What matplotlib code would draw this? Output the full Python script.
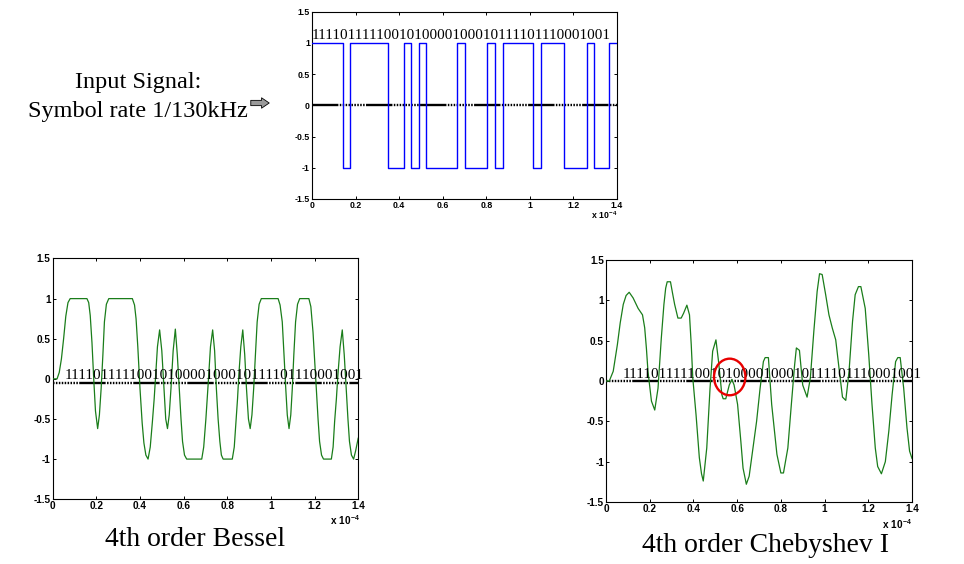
"""Input bit stream and its 4th order Bessel / Chebyshev I filtered versions."""

import matplotlib.pyplot as plt
import numpy as np
from matplotlib.patches import Ellipse, FancyArrowPatch

plt.rcParams["lines.scale_dashes"] = False
plt.rcParams["mathtext.fontset"] = "custom"
plt.rcParams["mathtext.rm"] = "Liberation Sans"
plt.rcParams["mathtext.bf"] = "Liberation Sans:bold"

W, H = 964, 564

# bit sequence, bit period in units of 1e-4 s
BITS = "1111011111001010000100010111101110001001"
BIT_PERIOD = 0.035

X_TICKS = [0, 0.2, 0.4, 0.6, 0.8, 1.0, 1.2, 1.4]
X_TICK_LABELS = ["0", "0.2", "0.4", "0.6", "0.8", "1", "1.2", "1.4"]
Y_TICKS = [-1.5, -1, -0.5, 0, 0.5, 1, 1.5]
Y_TICK_LABELS = ["-1.5", "-1", "-0.5", "0", "0.5", "1", "1.5"]

# level of the black reference line in each panel
INPUT_BASE = 0.0
BESSEL_BASE = -0.05
CHEBY_BASE = 0.0

# digitised filter outputs (time in 1e-4 s)
bessel_t = [0, 0.02, 0.03, 0.04, 0.05, 0.06, 0.07, 0.08, 0.157, 0.165, 0.172, 0.18,
            0.188, 0.196, 0.206, 0.214, 0.222, 0.23, 0.237, 0.246, 0.257, 0.365, 0.375,
            0.382, 0.39, 0.4, 0.41, 0.418, 0.427, 0.437, 0.447, 0.457, 0.465, 0.472,
            0.48, 0.49, 0.5, 0.51, 0.518, 0.526, 0.534, 0.542, 0.552, 0.562, 0.571,
            0.58, 0.588, 0.595, 0.604, 0.614, 0.683, 0.692, 0.702, 0.713, 0.723, 0.733,
            0.742, 0.75, 0.758, 0.766, 0.773, 0.781, 0.823, 0.832, 0.84, 0.847, 0.853,
            0.862, 0.871, 0.88, 0.888, 0.897, 0.905, 0.913, 0.921, 0.929, 0.937, 0.946,
            0.956, 1.033, 1.042, 1.052, 1.06, 1.068, 1.075, 1.083, 1.091, 1.098, 1.105,
            1.113, 1.122, 1.132, 1.174, 1.183, 1.193, 1.2, 1.208, 1.216, 1.223, 1.232,
            1.241, 1.277, 1.285, 1.292, 1.3, 1.307, 1.317, 1.327, 1.336, 1.345, 1.353,
            1.36, 1.369, 1.379, 1.388, 1.4]
bessel_v = [0, 0, 0.08, 0.25, 0.5, 0.78, 0.95, 1.0, 1.0, 0.95, 0.79, 0.45,
            0.0, -0.4, -0.62, -0.45, -0.12, 0.3, 0.71, 0.93, 1.0, 1.0, 0.92,
            0.75, 0.4, -0.12, -0.55, -0.8, -0.95, -1.0, -0.85, -0.53, -0.25, 0.05,
            0.4, 0.61, 0.35, -0.12, -0.5, -0.62, -0.45, -0.12, 0.35, 0.62, 0.3,
            -0.12, -0.5, -0.78, -0.95, -1.0, -1.0, -0.85, -0.5, -0.04, 0.4, 0.61,
            0.35, -0.12, -0.5, -0.78, -0.95, -1.0, -1.0, -0.85, -0.53, -0.25, 0.05,
            0.4, 0.61, 0.3, -0.12, -0.5, -0.62, -0.45, -0.12, 0.3, 0.71, 0.93,
            1.0, 1.0, 0.92, 0.71, 0.3, -0.12, -0.45, -0.62, -0.45, -0.12, 0.3,
            0.71, 0.93, 1.0, 1.0, 0.9, 0.58, 0.25, -0.12, -0.5, -0.78, -0.95,
            -1.0, -1.0, -0.85, -0.53, -0.25, 0.05, 0.4, 0.61, 0.3, -0.12, -0.5,
            -0.78, -0.95, -1.0, -0.9, -0.74]

cheby_t = [0, 0.015, 0.033, 0.052, 0.065, 0.079, 0.092, 0.106, 0.124, 0.147, 0.167,
           0.177, 0.185, 0.192, 0.208, 0.223, 0.238, 0.253, 0.265, 0.273, 0.28, 0.295,
           0.305, 0.314, 0.329, 0.344, 0.355, 0.37, 0.382, 0.39, 0.397, 0.412, 0.427,
           0.437, 0.445, 0.461, 0.476, 0.488, 0.503, 0.515, 0.53, 0.536, 0.548, 0.564,
           0.576, 0.586, 0.602, 0.617, 0.627, 0.642, 0.655, 0.669, 0.689, 0.705, 0.72,
           0.728, 0.743, 0.758, 0.782, 0.8, 0.812, 0.832, 0.848, 0.863, 0.871, 0.885,
           0.9, 0.92, 0.935, 0.951, 0.966, 0.977, 0.989, 1.005, 1.02, 1.035, 1.051,
           1.066, 1.082, 1.097, 1.112, 1.128, 1.14, 1.155, 1.166, 1.186, 1.202, 1.217,
           1.232, 1.243, 1.26, 1.278, 1.294, 1.309, 1.325, 1.335, 1.346, 1.362, 1.377,
           1.389, 1.4]
cheby_v = [0, 0, 0.12, 0.45, 0.72, 0.95, 1.06, 1.1, 1.03, 0.9, 0.82,
           0.66, 0.4, 0.12, -0.25, -0.36, -0.09, 0.53, 0.95, 1.15, 1.23, 1.23,
           1.08, 0.95, 0.78, 0.78, 0.84, 0.94, 0.82, 0.45, 0.04, -0.42, -0.95,
           -1.15, -1.24, -0.83, -0.09, 0.37, 0.51, 0.24, -0.17, -0.22, -0.22, -0.05,
           0.02, -0.05, -0.29, -0.75, -1.08, -1.28, -1.18, -0.9, -0.5, -0.09, 0.24,
           0.29, 0.29, -0.29, -0.91, -1.14, -1.14, -0.83, -0.29, 0.2, 0.41, 0.38,
           -0.05, -0.2, 0.04, 0.62, 1.11, 1.33, 1.32, 1.07, 0.82, 0.66, 0.51,
           0.16, -0.2, -0.24, 0.12, 0.74, 1.07, 1.17, 1.17, 0.9, 0.33, -0.29,
           -0.83, -1.06, -1.15, -1.0, -0.62, -0.17, 0.24, 0.29, 0.29, -0.09, -0.58,
           -0.87, -0.96]

SERIF = "Liberation Serif"
SANS = "Liberation Sans"
# solid stretch followed by a dotted stretch
ZERO_DASH = [19.0, 1.0] + [1.1, 1.0] * 9


def fxy(px, py):
	return px / W, 1 - py / H


def style_axes(ax, size):
	ax.set_xlim(0, 1.4)
	ax.set_ylim(-1.5, 1.5)
	ax.set_xticks(X_TICKS)
	ax.set_xticklabels(X_TICK_LABELS)
	ax.set_yticks(Y_TICKS)
	ax.set_yticklabels(Y_TICK_LABELS)
	ax.tick_params(direction="in", length=2.5, width=0.7, top=True, right=True,
				   labelsize=size, pad=1.5)
	for label in ax.get_xticklabels() + ax.get_yticklabels():
		label.set_fontfamily(SANS)
		label.set_fontweight("bold")
	for spine in ax.spines.values():
		spine.set_linewidth(0.8)


def zero_line(ax, level, offset):
	ax.axhline(level, color="black", lw=1.7, linestyle=(offset, ZERO_DASH),
			   dash_capstyle="butt", zorder=2)


fig = plt.figure(figsize=(W / 100, H / 100), dpi=100)

ax_in = fig.add_axes([312 / W, 1 - 199 / H, 305 / W, 187.3 / H])
ax_b = fig.add_axes([52.7 / W, 1 - 499.2 / H, 305.5 / W, 240.7 / H])
ax_c = fig.add_axes([606 / W, 1 - 502 / H, 306 / W, 242 / H])

# input square wave
levels = np.array([1.0 if b == "1" else -1.0 for b in BITS])
edges = np.arange(len(BITS) + 1) * BIT_PERIOD
zero_line(ax_in, INPUT_BASE, 0)
ax_in.step(edges, np.append(levels, levels[-1]), where="post", color="#0000ff", lw=1.0, zorder=3)
ax_in.text(0, 1.06, BITS, family=SERIF, fontsize=10.9, va="baseline", ha="left", zorder=4)
style_axes(ax_in, 6.3)

# bessel
zero_line(ax_b, BESSEL_BASE, 20)
ax_b.plot(bessel_t, bessel_v, color="#1a7d1a", lw=0.9, zorder=3)
ax_b.text(0.056, 0.0, BITS, family=SERIF, fontsize=10.9, va="baseline", ha="left", zorder=4)
style_axes(ax_b, 7.2)

# chebyshev
zero_line(ax_c, CHEBY_BASE, 20)
ax_c.plot(cheby_t, cheby_v, color="#1a7d1a", lw=0.9, zorder=3)
ax_c.text(0.075, 0.037, BITS, family=SERIF, fontsize=10.9, va="baseline", ha="left", zorder=4)
ax_c.add_patch(Ellipse((0.566, 0.05), 0.1436, 0.4535, fill=False, ec="#e80000",
					   lw=1.7, zorder=5, clip_on=False))
style_axes(ax_c, 7.2)

# exponent labels
for (px, py), size in [((617, 219), 6.3), ((360, 525), 7.2), ((912, 529), 7.2)]:
	fig.text(*fxy(px, py), r"$\mathbf{x\ 10^{-4}}$", ha="right", va="baseline", fontsize=size)

# captions
fig.text(*fxy(138.3, 88.3), "Input Signal:", family=SERIF, fontsize=17.5, ha="center", va="baseline")
fig.text(*fxy(138.3, 117), "Symbol rate 1/130kHz", family=SERIF, fontsize=17.5,
		 ha="center", va="baseline")
fig.text(*fxy(195, 546), "4th order Bessel", family=SERIF, fontsize=20, ha="center", va="baseline")
fig.text(*fxy(765, 551.7), "4th order Chebyshev I", family=SERIF, fontsize=20,
		 ha="center", va="baseline")

arrow = FancyArrowPatch(fxy(248, 103), fxy(272, 103), transform=fig.transFigure,
						arrowstyle="simple,head_length=0.55,head_width=0.75,tail_width=0.38",
						mutation_scale=10, fc="#9a9a9a", ec="black", lw=0.6)
fig.add_artist(arrow)

fig.savefig("out.png", dpi=100)
